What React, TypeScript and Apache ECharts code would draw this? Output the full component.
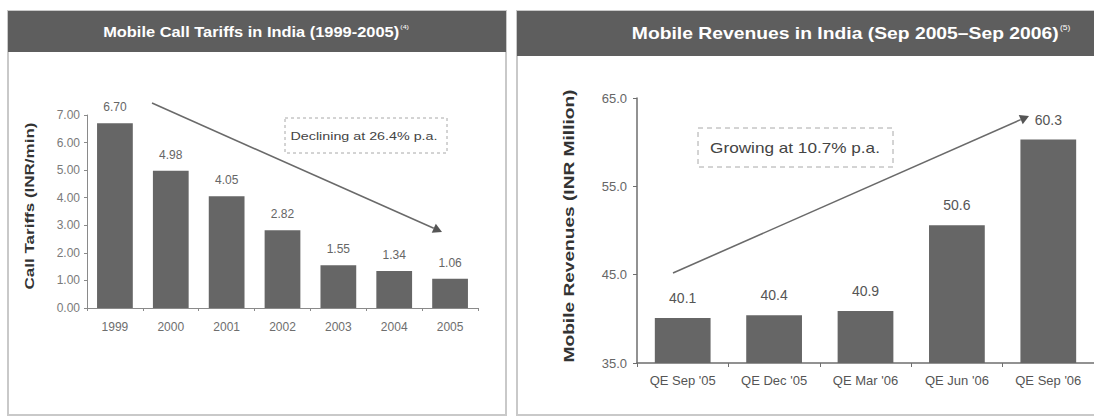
import React, { useEffect, useRef } from "react";
import * as echarts from "echarts";

const tariffYears = ["1999", "2000", "2001", "2002", "2003", "2004", "2005"];
const tariffValues = [6.7, 4.98, 4.05, 2.82, 1.55, 1.34, 1.06];
const tariffTicks = [0, 1, 2, 3, 4, 5, 6, 7];

const revenueQuarters = ["QE Sep '05", "QE Dec '05", "QE Mar '06", "QE Jun '06", "QE Sep '06"];
const revenueValues = [40.1, 40.4, 40.9, 50.6, 60.3];
const revenueTicks = [35, 45, 55, 65];

const leftTitle = "Mobile Call Tariffs in India (1999-2005)";
const leftNote = "(4)";
const rightTitle = "Mobile Revenues in India (Sep 2005\u2013Sep 2006)";
const rightNote = "(5)";
const leftTrend = "Declining at 26.4% p.a.";
const rightTrend = "Growing at 10.7% p.a.";
const leftYName = "Call Tariffs (INR/min)";
const rightYName = "Mobile Revenues (INR Million)";

const FONT = "'Liberation Sans', Arial, Helvetica, sans-serif";
const BAR = "#666666";
const TITLE_BG = "#5e5e5e";
const BORDER = "#c9c9c9";

function fitScale(text: string, size: number, bold: boolean, target: number) {
  const ctx = document.createElement("canvas").getContext("2d");
  if (!ctx) return 1;
  ctx.font = (bold ? "bold " : "") + size + "px " + FONT;
  const w = ctx.measureText(text).width;
  return w > 0 ? target / w : 1;
}

function arrow(x1: number, y1: number, x2: number, y2: number, size: number) {
  const a = Math.atan2(y2 - y1, x2 - x1);
  const c = Math.cos(a);
  const s = Math.sin(a);
  const bx = x2 - size * c;
  const by = y2 - size * s;
  const w = size * 0.55;
  return [
    {
      type: "line",
      shape: { x1, y1, x2: bx, y2: by },
      style: { stroke: "#6a6a6a", lineWidth: 1.6 },
      z: 10,
    },
    {
      type: "polygon",
      shape: {
        points: [
          [x2, y2],
          [bx - w * s, by + w * c],
          [bx + w * s, by - w * c],
        ],
      },
      style: { fill: "#555" },
      z: 10,
    },
  ];
}

export default function App() {
  const ref = useRef<HTMLDivElement>(null);

  useEffect(() => {
    document.body.style.margin = "0";
    document.body.style.overflow = "hidden";
    const chart = echarts.init(ref.current!, null, { renderer: "svg" });

    const sLeftTitle = fitScale(leftTitle, 14, true, 296);
    const sRightTitle = fitScale(rightTitle, 16, true, 427);
    const sLeftTrend = fitScale(leftTrend, 11, false, 147);
    const sRightTrend = fitScale(rightTrend, 14, false, 170);
    const sLeftName = fitScale(leftYName, 12, true, 167);
    const sRightName = fitScale(rightYName, 14, true, 273);

    const option: any = {
      animation: false,
      backgroundColor: "#ffffff",
      textStyle: { fontFamily: FONT },
      grid: [
        { left: 87, right: 616, top: 115, bottom: 109 },
        { left: 637, right: -7, top: 98, bottom: 54 },
      ],
      xAxis: [
        {
          type: "category",
          gridIndex: 0,
          data: tariffYears,
          axisLine: { lineStyle: { color: "#8a8a8a", width: 1 } },
          axisTick: { show: true, length: 3, lineStyle: { color: "#8a8a8a" } },
          axisLabel: { color: "#6e6e6e", fontSize: 12, margin: 13, fontFamily: FONT },
        },
        {
          type: "category",
          gridIndex: 1,
          data: revenueQuarters,
          axisLine: { lineStyle: { color: "#6e6e6e", width: 1.5 } },
          axisTick: { show: true, length: 4, lineStyle: { color: "#6e6e6e" } },
          axisLabel: { color: "#555", fontSize: 13, margin: 11, fontFamily: FONT },
        },
      ],
      yAxis: [
        {
          type: "value",
          gridIndex: 0,
          min: tariffTicks[0],
          max: tariffTicks[tariffTicks.length - 1],
          interval: 1,
          splitLine: { show: false },
          axisLine: { show: true, lineStyle: { color: "#8a8a8a" } },
          axisTick: { show: true, length: 3, lineStyle: { color: "#8a8a8a" } },
          axisLabel: {
            color: "#7a7a7a",
            fontSize: 12,
            margin: 7,
            fontFamily: FONT,
            formatter: (v: number) => v.toFixed(2),
          },
        },
        {
          type: "value",
          gridIndex: 1,
          min: revenueTicks[0],
          max: revenueTicks[revenueTicks.length - 1],
          splitLine: { show: false },
          axisLine: { show: true, lineStyle: { color: "#6e6e6e", width: 1.5 } },
          axisTick: { show: true, length: 4, customValues: revenueTicks, lineStyle: { color: "#6e6e6e" } },
          axisLabel: {
            color: "#666",
            fontSize: 13,
            margin: 10,
            fontFamily: FONT,
            customValues: revenueTicks,
            formatter: (v: number) => v.toFixed(1),
          },
        },
      ],
      series: [
        {
          type: "bar",
          xAxisIndex: 0,
          yAxisIndex: 0,
          data: tariffValues,
          barWidth: "64%",
          itemStyle: { color: BAR },
          label: {
            show: true,
            position: "top",
            distance: 10,
            color: "#666",
            fontSize: 12,
            fontFamily: FONT,
            formatter: (p: any) => Number(p.value).toFixed(2),
          },
        },
        {
          type: "bar",
          xAxisIndex: 1,
          yAxisIndex: 1,
          data: revenueValues,
          barWidth: "61%",
          itemStyle: { color: BAR },
          label: {
            show: true,
            position: "top",
            distance: 13,
            color: "#555",
            fontSize: 14,
            fontFamily: FONT,
            formatter: (p: any) => Number(p.value).toFixed(1),
          },
        },
      ],
      graphic: [
        // panels
        {
          type: "rect",
          shape: { x: 8, y: 11, width: 498, height: 404 },
          style: { fill: "none", stroke: BORDER, lineWidth: 2 },
          z: -1,
        },
        {
          type: "rect",
          shape: { x: 517, y: 11, width: 600, height: 404 },
          style: { fill: "none", stroke: BORDER, lineWidth: 2 },
          z: -1,
        },
        {
          type: "rect",
          shape: { x: 8, y: 11, width: 498, height: 41 },
          style: { fill: TITLE_BG },
          z: 1,
        },
        {
          type: "rect",
          shape: { x: 517, y: 11, width: 600, height: 45 },
          style: { fill: TITLE_BG },
          z: 1,
        },
        {
          type: "text",
          x: 256,
          y: 32,
          scaleX: sLeftTitle,
          z: 2,
          style: {
            text: "{t|" + leftTitle + "}{s|" + leftNote + "}",
            align: "center",
            verticalAlign: "middle",
            rich: {
              t: { fontSize: 14, fontWeight: "bold", fill: "#ffffff", fontFamily: FONT },
              s: { fontSize: 6, fill: "#ffffff", fontFamily: FONT, verticalAlign: "top", padding: [0, 0, 10, 1] },
            },
          },
        },
        {
          type: "text",
          x: 851,
          y: 34,
          scaleX: sRightTitle,
          z: 2,
          style: {
            text: "{t|" + rightTitle + "}{s|" + rightNote + "}",
            align: "center",
            verticalAlign: "middle",
            rich: {
              t: { fontSize: 16, fontWeight: "bold", fill: "#ffffff", fontFamily: FONT },
              s: { fontSize: 7, fill: "#ffffff", fontFamily: FONT, verticalAlign: "top", padding: [0, 0, 12, 1] },
            },
          },
        },
        // y-axis names
        {
          type: "text",
          x: 30,
          y: 206,
          rotation: Math.PI / 2,
          scaleX: sLeftName,
          z: 2,
          style: {
            text: leftYName,
            align: "center",
            verticalAlign: "middle",
            fontSize: 12,
            fontWeight: "bold",
            fill: "#333",
            fontFamily: FONT,
          },
        },
        {
          type: "text",
          x: 569,
          y: 226,
          rotation: Math.PI / 2,
          scaleX: sRightName,
          z: 2,
          style: {
            text: rightYName,
            align: "center",
            verticalAlign: "middle",
            fontSize: 14,
            fontWeight: "bold",
            fill: "#333",
            fontFamily: FONT,
          },
        },
        // trend boxes
        {
          type: "rect",
          shape: { x: 285, y: 118, width: 162, height: 35 },
          style: { fill: "#ffffff", stroke: "#a8a8a8", lineWidth: 1, lineDash: [3, 3] },
          z: 5,
        },
        {
          type: "text",
          x: 364,
          y: 136,
          scaleX: sLeftTrend,
          z: 6,
          style: {
            text: leftTrend,
            align: "center",
            verticalAlign: "middle",
            fontSize: 11,
            fill: "#444",
            fontFamily: FONT,
          },
        },
        {
          type: "rect",
          shape: { x: 698, y: 128, width: 195, height: 39 },
          style: { fill: "#ffffff", stroke: "#a8a8a8", lineWidth: 1, lineDash: [5, 4] },
          z: 5,
        },
        {
          type: "text",
          x: 795,
          y: 148,
          scaleX: sRightTrend,
          z: 6,
          style: {
            text: rightTrend,
            align: "center",
            verticalAlign: "middle",
            fontSize: 14,
            fill: "#444",
            fontFamily: FONT,
          },
        },
        ...arrow(152, 103, 442, 232, 9),
        ...arrow(673, 273, 1029, 116, 9),
      ],
    };

    chart.setOption(option);
    return () => chart.dispose();
  }, []);

  return <div ref={ref} style={{ width: 1094, height: 417 }} />;
}
